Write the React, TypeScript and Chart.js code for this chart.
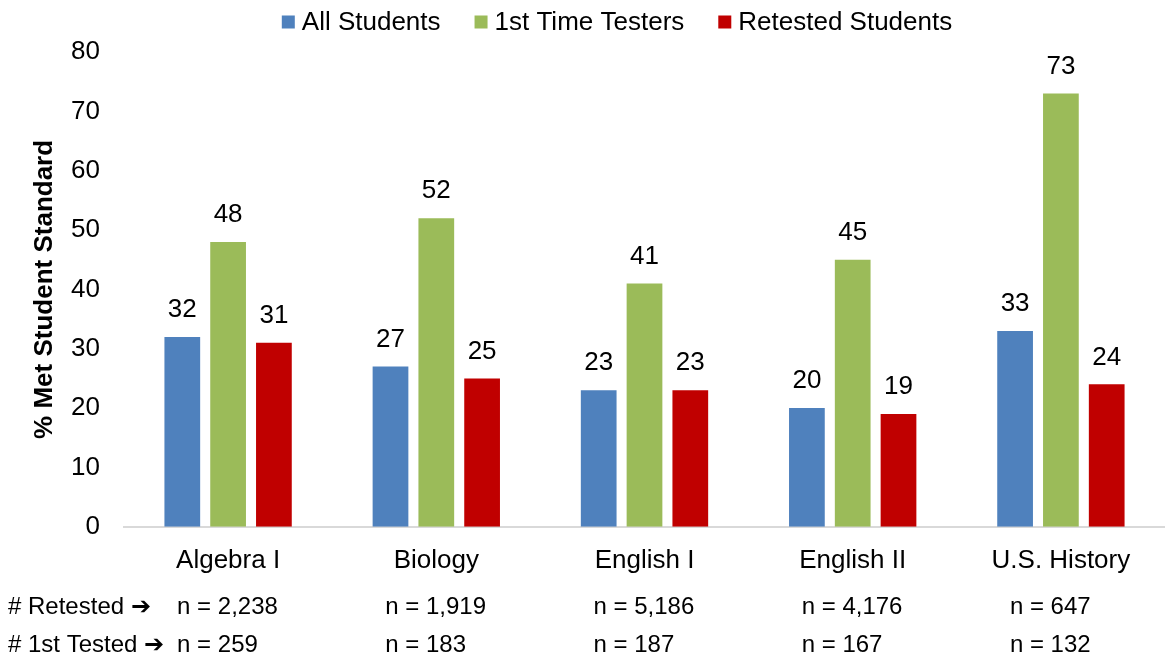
import React, { useEffect, useRef } from "react";
import { Chart, registerables } from "chart.js";

Chart.register(...registerables);

const categories = ["Algebra I", "Biology", "English I", "English II", "U.S. History"];
const allStudents = [32, 27, 23, 20, 33];
const firstTimeTesters = [48, 52, 41, 45, 73];
const retestedStudents = [31, 25, 23, 19, 24];
const retestedCounts = ["n = 2,238", "n = 1,919", "n = 5,186", "n = 4,176", "n = 647"];
const firstTestedCounts = ["n = 259", "n = 183", "n = 187", "n = 167", "n = 132"];
const rowLabels = ["# Retested \u2794", "# 1st Tested \u2794"];
const yTicks = [0, 10, 20, 30, 40, 50, 60, 70, 80];

const FONT = "'Liberation Sans', Arial, sans-serif";

const customLegend = {
  id: "customLegend",
  afterDraw(chart: any) {
    const ctx = chart.ctx;
    ctx.save();
    ctx.font = `26px ${FONT}`;
    ctx.textBaseline = "middle";
    ctx.textAlign = "left";
    const box = 13;
    const boxGap = 7;
    const itemGap = 34;
    const items = chart.data.datasets.map((ds: any) => ({
      text: ds.label,
      color: ds.backgroundColor,
      w: box + boxGap + ctx.measureText(ds.label).width,
    }));
    const total = items.reduce((s: number, it: any) => s + it.w, 0) + itemGap * (items.length - 1);
    let x = 617 - total / 2;
    const cy = 22;
    items.forEach((it: any) => {
      ctx.fillStyle = it.color;
      ctx.fillRect(x, cy - box / 2, box, box);
      ctx.fillStyle = "#000";
      ctx.fillText(it.text, x + box + boxGap, cy + 1);
      x += it.w + itemGap;
    });
    ctx.restore();
  },
};

const valueLabels = {
  id: "valueLabels",
  afterDatasetsDraw(chart: any) {
    const ctx = chart.ctx;
    ctx.save();
    ctx.font = `26px ${FONT}`;
    ctx.fillStyle = "#000";
    ctx.textAlign = "center";
    ctx.textBaseline = "middle";
    chart.data.datasets.forEach((ds: any, di: number) => {
      const meta = chart.getDatasetMeta(di);
      meta.data.forEach((bar: any, i: number) => {
        ctx.fillText(String(ds.data[i]), bar.x, bar.y - 27);
      });
    });
    ctx.restore();
  },
};

const bottomRows = {
  id: "bottomRows",
  afterDraw(chart: any) {
    const ctx = chart.ctx;
    const x = chart.scales.x;
    ctx.save();
    ctx.font = `24px ${FONT}`;
    ctx.fillStyle = "#000";
    ctx.textBaseline = "middle";
    ctx.textAlign = "left";
    const rows = [retestedCounts, firstTestedCounts];
    const ys = [607, 645];
    rows.forEach((row, r) => {
      ctx.fillText(rowLabels[r], 8, ys[r]);
      row.forEach((t, i) => {
        ctx.fillText(t, x.getPixelForValue(i) - 51, ys[r]);
      });
    });
    ctx.restore();
  },
};

export default function App() {
  const ref = useRef<HTMLCanvasElement | null>(null);
  useEffect(() => {
    document.body.style.margin = "0";
    document.body.style.overflow = "hidden";
    const chart = new Chart(ref.current!, {
      type: "bar",
      data: {
        labels: categories,
        datasets: [
          { label: "All Students", data: allStudents, backgroundColor: "#4F81BD" },
          { label: "1st Time Testers", data: firstTimeTesters, backgroundColor: "#9BBB59" },
          { label: "Retested Students", data: retestedStudents, backgroundColor: "#C00000" },
        ],
      },
      options: {
        animation: false,
        responsive: false,
        maintainAspectRatio: false,
        datasets: { bar: { categoryPercentage: 0.66, barPercentage: 0.78 } },
        layout: { padding: { left: 8, right: -4, top: 52, bottom: 67 } },
        plugins: {
          legend: { display: false },
          tooltip: { enabled: false },
        },
        scales: {
          x: {
            grid: { display: false, drawTicks: false },
            border: { display: true, color: "#D9D9D9", width: 2 },
            ticks: { font: { family: FONT, size: 26 }, color: "#000", padding: 18 },
          },
          y: {
            min: 0,
            max: 80,
            afterBuildTicks(scale: any) {
              scale.ticks = yTicks.map((v) => ({ value: v }));
            },
            afterFit(scale: any) {
              scale.width = 116;
            },
            grid: { display: false, drawTicks: false },
            border: { display: false },
            ticks: { font: { family: FONT, size: 26 }, color: "#000", padding: 24 },
            title: {
              display: true,
              text: "% Met Student Standard",
              font: { family: FONT, size: 26, weight: "bold" },
              color: "#000",
              padding: { top: 21, bottom: 11 },
            },
          },
        },
      },
      plugins: [customLegend, valueLabels, bottomRows],
    });
    return () => chart.destroy();
  }, []);
  return (
    <div style={{ width: 1165, height: 661 }}>
      <canvas ref={ref} width={1165} height={661} style={{ display: "block" }} />
    </div>
  );
}
